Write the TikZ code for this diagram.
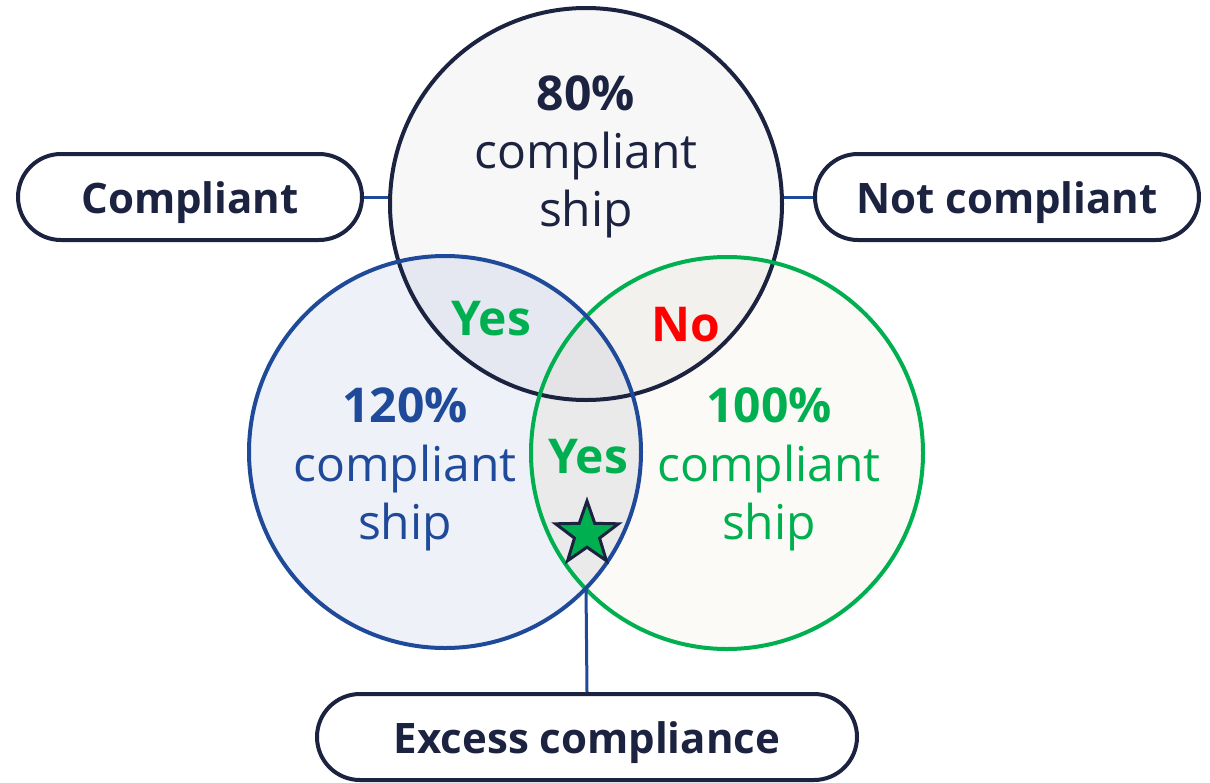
\documentclass[tikz,border=0pt]{standalone}
\usepackage{fontspec}
\setmainfont{Open Sans}
\usetikzlibrary{shapes.geometric}
\definecolor{navy}{HTML}{1C2340}
\definecolor{cblue}{HTML}{1F4A9A}
\definecolor{cgreen}{HTML}{00B050}
\definecolor{cred}{HTML}{FF0000}
\definecolor{topfill}{HTML}{F7F7F8}
\definecolor{leftfill}{HTML}{EEF1F8}
\definecolor{rightfill}{HTML}{FCFAF6}
\definecolor{tlfill}{HTML}{E5E8F0}
\definecolor{trfill}{HTML}{F3F1EE}
\definecolor{lrfill}{HTML}{EAEAEA}
\definecolor{allfill}{HTML}{E4E4E6}
\tikzset{
  ring/.style={circle, draw, line width=4pt, minimum size=392pt, inner sep=0pt},
  pill/.style={draw=navy, line width=4pt, rounded corners=43pt, minimum height=86pt, inner sep=0pt, text height=32pt, text depth=0pt, font=\fontsize{42}{50}\selectfont\bfseries, text=navy},
  big/.style={font=\fontsize{48}{58}\selectfont\bfseries, anchor=base, inner sep=0pt},
  reg/.style={font=\fontsize{48}{58}\selectfont, anchor=base, inner sep=0pt},
  link/.style={draw=cblue, line width=3pt},
}
\begin{document}
\begin{tikzpicture}[x=1pt,y=-1pt]
\useasboundingbox (0,0) rectangle (1210,782);
% fills
\fill[topfill] (586,204) circle[radius=196pt];
\fill[leftfill] (445,452) circle[radius=196pt];
\fill[rightfill] (727,453) circle[radius=196pt];
\begin{scope}
  \clip (586,204) circle[radius=196pt];
  \fill[tlfill] (445,452) circle[radius=196pt];
  \fill[trfill] (727,453) circle[radius=196pt];
\end{scope}
\begin{scope}
  \clip (445,452) circle[radius=196pt];
  \fill[lrfill] (727,453) circle[radius=196pt];
  \clip (727,453) circle[radius=196pt];
  \fill[allfill] (586,204) circle[radius=196pt];
\end{scope}
% outlines
\node[ring, draw=navy] (top) at (586,204) {};
\node[ring, draw=cgreen] (right) at (727,453) {};
\node[ring, draw=cblue] (left) at (445,452) {};
\coordinate (low) at (586,588);
% texts
\node[big, text=navy] (t1) at (586,110) {80\%};
\node[reg, text=navy] (t2) at (586,168) {compliant};
\node[reg, text=navy] (t3) at (586,226) {ship};
\node[big, text=cblue] (l1) at (405,422) {120\%};
\node[reg, text=cblue] (l2) at (405,481) {compliant};
\node[reg, text=cblue] (l3) at (405,539) {ship};
\node[big, text=cgreen] (r1) at (769,422) {100\%};
\node[reg, text=cgreen] (r2) at (769,481) {compliant};
\node[reg, text=cgreen] (r3) at (769,539) {ship};
\node[big, text=cgreen] (y1) at (491,335) {Yes};
\node[big, text=cred] (n1) at (686,341) {No};
\node[big, text=cgreen] (y2) at (588,473) {Yes};
\node[star, star points=5, star point ratio=2.5, minimum size=66pt, inner sep=0pt, fill=cgreen, draw=navy, line width=3pt] (st) at (587,534) {};
% pills
\node[pill, minimum width=344pt] (comp) at (190,197) {Compliant};
\node[pill, minimum width=384pt] (notc) at (1007,197) {Not compliant};
\node[pill, minimum width=540pt] (exc) at (587,737) {Excess compliance};
% connectors
\draw[link] (comp.east) -- (top.west |- comp.east);
\draw[link] (top.east |- notc.west) -- (notc.west);
\draw[link] (low) -- (exc.north);
\end{tikzpicture}
\end{document}
